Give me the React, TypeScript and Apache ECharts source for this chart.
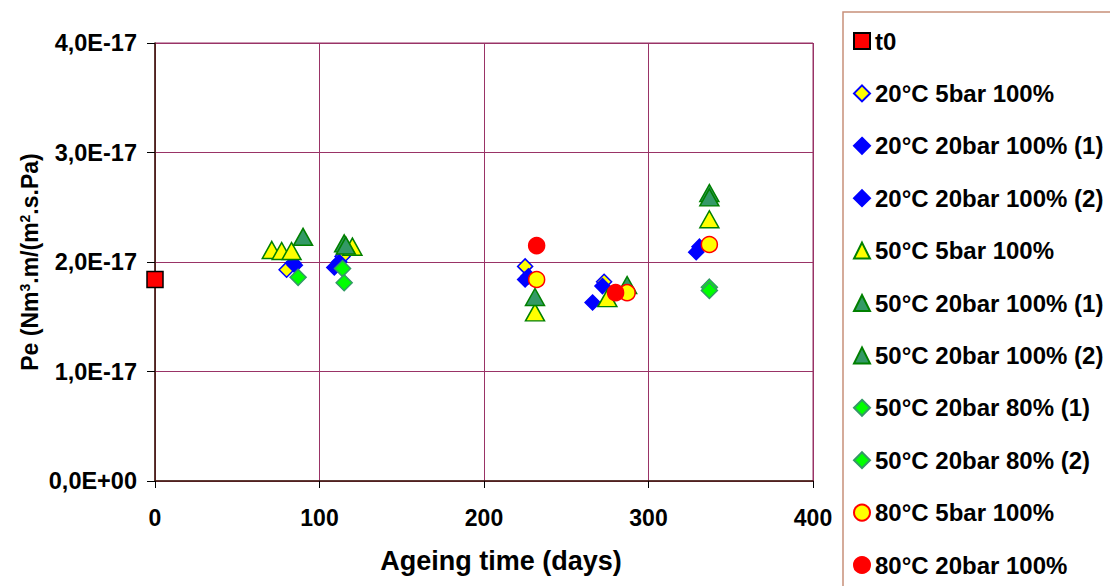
import React, { useEffect, useRef } from "react";
import * as echarts from "echarts";

// Values of Pe are given in units of 1E-17 Nm3.m/(m2.s.Pa)
const xTicks = [0, 100, 200, 300, 400];
const yTicks = [0, 1, 2, 3, 4];

const t0 = [[0, 1.84]];
const c20_5_100 = [[80, 1.93], [114, 2.05], [225, 1.96], [273, 1.82]];
const c20_20_100_1 = [[84, 1.99], [109, 1.95], [225, 1.84], [266, 1.63], [329, 2.09]];
const c20_20_100_2 = [[85, 1.97], [112, 2.0], [227, 1.87], [272, 1.78], [331, 2.14]];
const c50_5_100 = [[71, 2.11], [77, 2.1], [83, 2.1], [120, 2.14], [231, 1.54], [275, 1.67], [337, 2.39]];
const c50_20_100_1 = [[90, 2.23], [115, 2.17], [231, 1.68], [287, 1.79], [337, 2.63]];
const c50_20_100_2 = [[116, 2.15], [337, 2.59]];
const c50_20_80_1 = [[87, 1.86], [114, 1.94], [337, 1.77]];
const c50_20_80_2 = [[115, 1.81], [337, 1.74]];
const c80_5_100 = [[232, 1.84], [287, 1.72], [337, 2.16]];
const c80_20_100 = [[232, 2.15], [280, 1.72]];

const seriesDefs = [
  { name: "t0", data: t0, symbol: "rect", size: 16, fill: "#ff0000", stroke: "#000000" },
  { name: "20°C 5bar 100%", data: c20_5_100, symbol: "diamond", size: 15, fill: "#ffff00", stroke: "#0000ff" },
  { name: "20°C 20bar 100% (1)", data: c20_20_100_1, symbol: "diamond", size: 15, fill: "#0000ff", stroke: "#0000ff" },
  { name: "20°C 20bar 100% (2)", data: c20_20_100_2, symbol: "diamond", size: 15, fill: "#0000ff", stroke: "#0000ff" },
  { name: "50°C 5bar 100%", data: c50_5_100, symbol: "triangle", size: [19, 17], fill: "#ffff00", stroke: "#008000" },
  { name: "50°C 20bar 100% (1)", data: c50_20_100_1, symbol: "triangle", size: [19, 17], fill: "#339966", stroke: "#008000" },
  { name: "50°C 20bar 100% (2)", data: c50_20_100_2, symbol: "triangle", size: [19, 17], fill: "#339966", stroke: "#008000" },
  { name: "50°C 20bar 80% (1)", data: c50_20_80_1, symbol: "diamond", size: 16, fill: "#00ff00", stroke: "#339966" },
  { name: "50°C 20bar 80% (2)", data: c50_20_80_2, symbol: "diamond", size: 16, fill: "#00ff00", stroke: "#339966" },
  { name: "80°C 5bar 100%", data: c80_5_100, symbol: "circle", size: 16, fill: "#ffff00", stroke: "#ff0000" },
  { name: "80°C 20bar 100%", data: c80_20_100, symbol: "circle", size: 16, fill: "#ff0000", stroke: "#ff0000" },
];

const FONT = "Liberation Sans, Arial, sans-serif";
const GRID_COLOR = "#993366";

export default function App() {
  const ref = useRef<HTMLDivElement>(null);
  useEffect(() => {
    if (!ref.current) return;
    const chart = echarts.init(ref.current, undefined, { renderer: "svg" });
    chart.setOption({
      animation: false,
      backgroundColor: "#ffffff",
      grid: { left: 155, right: 297, top: 43, bottom: 105, show: true, borderColor: GRID_COLOR, borderWidth: 1 },
      graphic: [
        {
          type: "rect",
          shape: { x: 843, y: 12, width: 320, height: 620 },
          style: { fill: "none", stroke: "#c8907a", lineWidth: 1.5 },
          silent: true,
        },
      ],
      legend: {
        orient: "vertical",
        left: 853,
        top: 29,
        bottom: 0,
        padding: 0,
        itemGap: 28.4,
        itemWidth: 16,
        itemHeight: 16,
        textStyle: { fontFamily: FONT, fontWeight: "bold", fontSize: 24, lineHeight: 24, color: "#000" },
        data: seriesDefs.map((s) => s.name),
      },
      xAxis: {
        type: "value",
        min: xTicks[0],
        max: xTicks[xTicks.length - 1],
        interval: 100,
        name: "Ageing time (days)",
        nameLocation: "middle",
        nameGap: 66,
        nameMoveOverlap: false,
        nameTextStyle: { fontFamily: FONT, fontWeight: "bold", fontSize: 27, color: "#000", padding: [0, 0, 0, 34] },
        axisLine: { show: true, lineStyle: { color: "#3a1a0a", width: 1.5 } },
        axisTick: { show: true, inside: false, length: 7, lineStyle: { color: "#000" } },
        axisLabel: { fontFamily: FONT, fontWeight: "bold", fontSize: 23, color: "#000", margin: 25 },
        splitLine: { show: true, lineStyle: { color: GRID_COLOR, width: 1 } },
      },
      yAxis: {
        type: "value",
        min: yTicks[0],
        max: yTicks[yTicks.length - 1],
        interval: 1,
        name: "{n|Pe (Nm}{sup|3}{n|.m/(m}{sup|2}{n|.s.Pa)}",
        nameLocation: "middle",
        nameGap: 114,
        nameMoveOverlap: false,
        nameRotate: 90,
        nameTextStyle: {
          fontFamily: FONT,
          fontWeight: "bold",
          fontSize: 23,
          color: "#000",
          rich: {
            n: { fontFamily: FONT, fontWeight: "bold", fontSize: 23, lineHeight: 23, color: "#000", verticalAlign: "bottom" },
            sup: { fontFamily: FONT, fontWeight: "bold", fontSize: 14, lineHeight: 14, color: "#000", verticalAlign: "top", padding: [0, 0, 14, 0] },
          },
        },
        axisLine: { show: true, lineStyle: { color: "#3a1a0a", width: 1.5 } },
        axisTick: { show: true, inside: false, length: 8, lineStyle: { color: "#000" } },
        axisLabel: {
          fontFamily: FONT,
          fontWeight: "bold",
          fontSize: 23.5,
          color: "#000",
          margin: 18,
          formatter: (v: number) => (v === 0 ? "0,0E+00" : v.toFixed(1).replace(".", ",") + "E-17"),
        },
        splitLine: { show: true, lineStyle: { color: GRID_COLOR, width: 1 } },
      },
      series: seriesDefs.map((s) => ({
        name: s.name,
        type: "scatter",
        data: s.data,
        symbol: s.symbol,
        symbolSize: s.size,
        itemStyle: { color: s.fill, borderColor: s.stroke, borderWidth: 1.5, opacity: 1 },
        emphasis: { disabled: true },
      })),
    });
    return () => chart.dispose();
  }, []);
  return <div ref={ref} style={{ width: 1110, height: 586, position: "absolute", left: 0, top: 0 }} />;
}
